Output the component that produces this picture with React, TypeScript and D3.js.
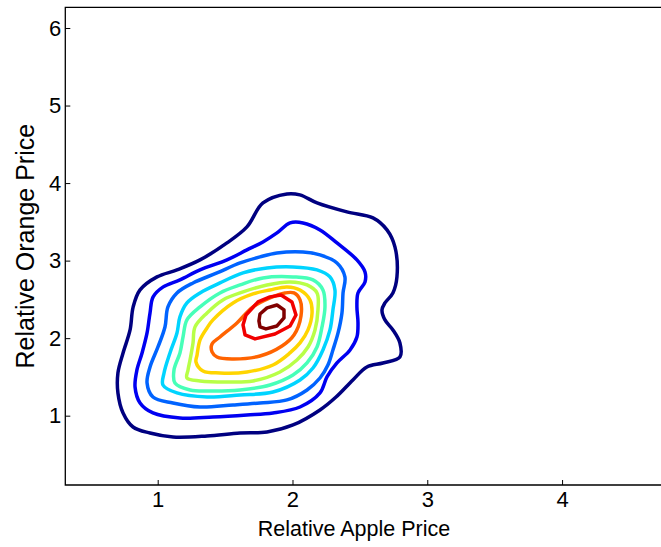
import React, { useRef, useEffect } from 'react';
import * as d3 from 'd3';

const xTicks = [1, 2, 3, 4];
const yTicks = [1, 2, 3, 4, 5, 6];
const xLabel = 'Relative Apple Price';
const yLabel = 'Relative Orange Price';

// contour rings, [apple, orange], outermost level first
const level1 = [
    [0.705, 1.293], [0.705, 1.551], [0.743, 1.809], [0.795, 2.106], [0.818, 2.403],
    [0.869, 2.622], [0.995, 2.790], [1.143, 2.880], [1.314, 3.009], [1.514, 3.228],
    [1.662, 3.435], [1.781, 3.744], [1.959, 3.860], [2.055, 3.848], [2.182, 3.744],
    [2.404, 3.628], [2.597, 3.551], [2.701, 3.396], [2.760, 3.177], [2.775, 2.790],
    [2.745, 2.583], [2.686, 2.454], [2.664, 2.364], [2.686, 2.235], [2.745, 2.106],
    [2.797, 1.938], [2.797, 1.757], [2.671, 1.680], [2.552, 1.628], [2.448, 1.461],
    [2.323, 1.241], [2.204, 1.074], [2.004, 0.880], [1.811, 0.790], [1.611, 0.777],
    [1.366, 0.738], [1.114, 0.725], [0.943, 0.777], [0.817, 0.854], [0.743, 1.035],
];
const level2 = [
    [0.832, 1.370], [0.846, 1.590], [0.884, 1.809], [0.921, 2.067], [0.943, 2.325],
    [0.966, 2.532], [1.041, 2.661], [1.165, 2.751], [1.314, 2.880], [1.514, 3.009],
    [1.662, 3.138], [1.781, 3.241], [1.885, 3.357], [1.982, 3.486], [2.078, 3.486],
    [2.204, 3.396], [2.330, 3.228], [2.478, 3.009], [2.538, 2.854], [2.538, 2.725],
    [2.486, 2.583], [2.478, 2.403], [2.486, 2.196], [2.478, 2.015], [2.427, 1.848],
    [2.330, 1.680], [2.256, 1.500], [2.204, 1.293], [2.056, 1.112], [1.855, 1.035],
    [1.662, 1.009], [1.410, 0.983], [1.165, 0.970], [0.965, 1.035], [0.869, 1.164],
];
const level3 = [
    [0.921, 1.422], [0.943, 1.628], [1.002, 1.886], [1.054, 2.144], [1.076, 2.403],
    [1.143, 2.583], [1.262, 2.712], [1.440, 2.841], [1.611, 2.970], [1.759, 3.048],
    [1.885, 3.099], [2.078, 3.112], [2.204, 3.073], [2.330, 2.970], [2.389, 2.790],
    [2.375, 2.583], [2.367, 2.325], [2.338, 2.067], [2.300, 1.848], [2.263, 1.654],
    [2.204, 1.486], [2.108, 1.332], [1.959, 1.203], [1.759, 1.164], [1.559, 1.138],
    [1.314, 1.112], [1.113, 1.164], [0.965, 1.241],
];
const level4 = [
    [1.039, 1.396], [1.047, 1.551], [1.091, 1.809], [1.143, 2.067], [1.165, 2.274],
    [1.217, 2.454], [1.314, 2.583], [1.462, 2.712], [1.633, 2.841], [1.811, 2.906],
    [2.004, 2.919], [2.182, 2.880], [2.278, 2.790], [2.315, 2.622], [2.300, 2.364],
    [2.278, 2.106], [2.226, 1.848], [2.152, 1.615], [2.056, 1.461], [1.855, 1.306],
    [1.611, 1.267], [1.366, 1.241], [1.143, 1.293],
];
const level5 = [
    [1.128, 1.422], [1.121, 1.590], [1.165, 1.809], [1.188, 2.015], [1.217, 2.235],
    [1.314, 2.403], [1.462, 2.583], [1.611, 2.686], [1.781, 2.777], [2.004, 2.790],
    [2.152, 2.751], [2.226, 2.622], [2.241, 2.403], [2.219, 2.145], [2.182, 1.886],
    [2.108, 1.680], [2.004, 1.525], [1.833, 1.396], [1.611, 1.332], [1.388, 1.319],
    [1.240, 1.332],
];
const level6 = [
    [1.217, 1.486], [1.225, 1.590], [1.240, 1.719], [1.262, 1.938], [1.277, 2.145],
    [1.366, 2.325], [1.484, 2.493], [1.633, 2.596], [1.811, 2.686], [1.982, 2.725],
    [2.108, 2.686], [2.182, 2.583], [2.189, 2.364], [2.167, 2.106], [2.115, 1.886],
    [2.033, 1.719], [1.907, 1.564], [1.707, 1.448], [1.514, 1.435], [1.314, 1.448],
];
const level7 = [
    [1.284, 1.693], [1.292, 1.783], [1.314, 1.977], [1.366, 2.132], [1.410, 2.235],
    [1.559, 2.454], [1.707, 2.570], [1.833, 2.622], [1.959, 2.661], [2.056, 2.622],
    [2.130, 2.493], [2.145, 2.325], [2.115, 2.106], [2.056, 1.938], [1.981, 1.809],
    [1.855, 1.654], [1.662, 1.564], [1.462, 1.551], [1.336, 1.577],
];
const level8 = [
    [1.403, 1.822], [1.403, 1.925], [1.462, 2.015], [1.588, 2.196], [1.707, 2.403],
    [1.833, 2.519], [1.944, 2.583], [2.011, 2.583], [2.056, 2.493], [2.063, 2.287],
    [2.011, 2.041], [1.922, 1.899], [1.759, 1.770], [1.551, 1.732], [1.440, 1.757],
];
const level9 = [
    [1.633, 2.170], [1.655, 2.299], [1.744, 2.467], [1.833, 2.532], [1.915, 2.557],
    [1.996, 2.467], [2.026, 2.299], [1.982, 2.157], [1.870, 2.054], [1.722, 1.990],
    [1.648, 2.041],
];
const level10 = [
    [1.751, 2.222], [1.759, 2.312], [1.811, 2.390], [1.885, 2.428], [1.937, 2.364],
    [1.937, 2.261], [1.885, 2.157], [1.803, 2.119], [1.759, 2.145],
];

const contours = [level1, level2, level3, level4, level5, level6, level7, level8, level9, level10];

// matlab jet colormap
const jet = (t: number) => {
    const c = (v: number) => Math.round(255 * Math.max(0, Math.min(1, v)));
    return d3.rgb(c(1.5 - Math.abs(4 * t - 3)), c(1.5 - Math.abs(4 * t - 2)), c(1.5 - Math.abs(4 * t - 1))).formatHex();
};

const W = 661;
const H = 547;
const FONT = '"Liberation Sans", Arial, Helvetica, sans-serif';

const ContourChart = () => {
    const svgRef = useRef<SVGSVGElement>(null);

    useEffect(() => {
        d3.select(svgRef.current).selectAll('*').remove();
        const svg = d3.select(svgRef.current);

        const left = 65.3, right = 661, top = 7.3, bottom = 485;

        const x = d3.scaleLinear().domain([0.3145, 4.734]).range([left, right]);
        const y = d3.scaleLinear().domain([0.106, 6.267]).range([bottom, top]);

        // contours
        const line = d3.line<number[]>()
            .x(d => x(d[0]))
            .y(d => y(d[1]));

        svg.append('g')
            .selectAll('path')
            .data(contours)
            .enter()
            .append('path')
            .attr('d', (d, i) => line.curve(i >= 8 ? d3.curveLinearClosed : d3.curveCatmullRomClosed.alpha(0.5))(d))
            .attr('fill', 'none')
            .attr('stroke', (d, i) => jet(i / (contours.length - 1)))
            .attr('stroke-width', 3.5)
            .attr('stroke-linejoin', 'round');

        // axes, ticks pointing inwards
        const xAxis = d3.axisBottom(x).tickValues(xTicks).tickFormat(d3.format('d')).tickSizeInner(-5).tickSizeOuter(0).tickPadding(6);
        const yAxis = d3.axisLeft(y).tickValues(yTicks).tickFormat(d3.format('d')).tickSizeInner(-5).tickSizeOuter(0).tickPadding(4);

        const gx = svg.append('g').attr('transform', `translate(0,${bottom})`).call(xAxis);
        const gy = svg.append('g').attr('transform', `translate(${left},0)`).call(yAxis);

        [gx, gy].forEach(g => {
            g.select('.domain').remove();
            g.selectAll('line').attr('stroke', '#000').attr('stroke-width', 1);
            g.selectAll('text')
                .attr('fill', '#000')
                .style('font-family', FONT)
                .style('font-size', '22px');
        });

        // box (right edge falls off the canvas)
        svg.append('path')
            .attr('d', `M${right},${top}H${left}V${bottom}H${right}`)
            .attr('fill', 'none')
            .attr('stroke', '#000')
            .attr('stroke-width', 1.3);

        svg.append('text')
            .attr('x', 354)
            .attr('y', 536)
            .attr('text-anchor', 'middle')
            .style('font-family', FONT)
            .style('font-size', '21.5px')
            .text(xLabel);

        svg.append('text')
            .attr('transform', `translate(34,${(top + bottom) / 2}) rotate(-90)`)
            .attr('text-anchor', 'middle')
            .style('font-family', FONT)
            .style('font-size', '25px')
            .text(yLabel);
    }, []);

    return (
        <svg
            ref={svgRef}
            width={W}
            height={H}
            style={{ position: 'absolute', left: 0, top: 0, background: '#fff' }}
        />
    );
};

export default function App() {
    return <ContourChart />;
}
